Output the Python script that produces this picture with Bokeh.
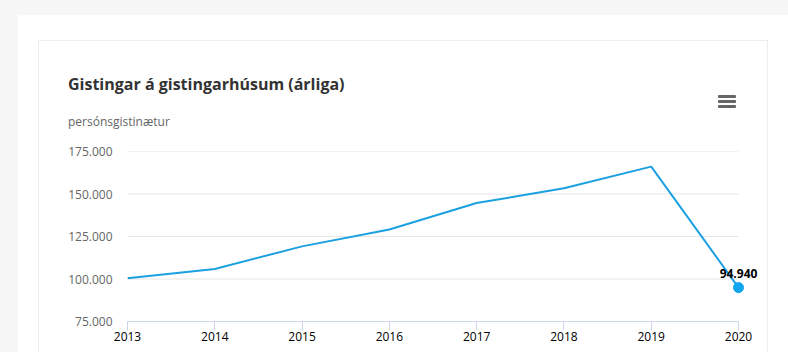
from bokeh.plotting import figure
from bokeh.models import Range1d, FixedTicker, Label, Div
from bokeh.layouts import column
from bokeh.embed import file_html
from bokeh.resources import INLINE

years = [2013, 2014, 2015, 2016, 2017, 2018, 2019, 2020]
values = [100400, 105900, 119200, 129100, 144700, 153350, 166100, 94940]
y_ticks = [75000, 100000, 125000, 150000, 175000]
y_tick_labels = ["75.000", "100.000", "125.000", "150.000", "175.000"]
title_text = "Gistingar á gistingarhúsum (árliga)"
subtitle_text = "persónsgistinætur"

# geometry of the figure (canvas px)
FW, FH = 728, 221
frame_left, frame_right_2020 = 88, 699
px_per_year = (frame_right_2020 - frame_left) / (years[-1] - years[0])
x_end = years[-1] + (FW - frame_right_2020) / px_per_year

p = figure(width=FW, height=FH, output_backend="svg", toolbar_location=None,
           x_range=Range1d(years[0], x_end), y_range=Range1d(y_ticks[0], y_ticks[-1]),
           min_border_left=frame_left, min_border_right=0, min_border_top=20, min_border_bottom=31)
p.outline_line_color = None
p.background_fill_color = "white"
p.border_fill_color = "white"

p.xaxis.ticker = FixedTicker(ticks=years)
p.xaxis.bounds = (years[0], years[-1])
p.xaxis.axis_line_color = "#ccd6eb"
p.xaxis.major_tick_line_color = "#ccd6eb"
p.xaxis.major_tick_out = 9
p.xaxis.major_tick_in = 0
p.xaxis.minor_tick_line_color = None
p.xaxis.major_label_standoff = 1
p.xaxis.major_label_text_font = "Open Sans"
p.xaxis.major_label_text_font_size = "12px"
p.xaxis.major_label_text_color = "#000000"

p.yaxis.ticker = FixedTicker(ticks=y_ticks)
p.yaxis.major_label_overrides = {t: l for t, l in zip(y_ticks, y_tick_labels)}
p.yaxis.axis_line_color = None
p.yaxis.major_tick_line_color = None
p.yaxis.minor_tick_line_color = None
p.yaxis.major_tick_out = 0
p.yaxis.major_label_standoff = 15
p.yaxis.major_label_text_font = "Open Sans"
p.yaxis.major_label_text_font_size = "12px"
p.yaxis.major_label_text_color = "#666666"

p.xgrid.grid_line_color = None
p.ygrid.grid_line_color = None
grid_vals = y_ticks[1:]
p.segment(x0=[years[0]] * len(grid_vals), x1=[years[-1]] * len(grid_vals), y0=grid_vals, y1=grid_vals,
          line_color="#e6e6e6", line_width=1)

p.line(years, values, line_color="#1ba0e1", line_width=2)
p.scatter([years[-1]], [values[-1]], size=10, fill_color="#0fa5ef", line_color="#0fa5ef")

last_label = f"{values[-1]:,}".replace(",", ".")
p.add_layout(Label(x=years[-1], y=values[-1], text=last_label, text_font="Open Sans",
                   text_font_style="bold", text_font_size="12px", text_color="#000000",
                   text_align="center", text_baseline="bottom", y_offset=10))

header_html = (
    '<div style="position:relative;width:728px;height:90px;font-family:\'Open Sans\';">'
    f'<div style="position:absolute;left:29px;top:31px;font-size:16px;font-weight:bold;color:#333333;white-space:nowrap;line-height:24px;">{title_text}</div>'
    f'<div style="position:absolute;left:29px;top:72px;font-size:12px;color:#666666;white-space:nowrap;line-height:18px;">{subtitle_text}</div>'
    '<div style="position:absolute;left:679px;top:54px;width:18px;height:3px;background:#666666;border-radius:1px;"></div>'
    '<div style="position:absolute;left:679px;top:59px;width:18px;height:3px;background:#666666;border-radius:1px;"></div>'
    '<div style="position:absolute;left:679px;top:64px;width:18px;height:3px;background:#666666;border-radius:1px;"></div>'
    '</div>'
)
header = Div(text=header_html, width=728, height=90, margin=(0, 0, 0, 0))

box = column(header, p, margin=(25, 20, 0, 20), spacing=0,
             styles={"border-top": "1px solid #eeeeee", "border-left": "1px solid #eeeeee",
                     "border-right": "1px solid #eeeeee", "background-color": "white"})
card = column(box, margin=(15, 0, 0, 18), styles={"background-color": "white"})
root = column(card, margin=(0, 0, 0, 0), styles={"background-color": "#f7f7f7"})

open("out.html", "w").write(file_html(root, INLINE))
